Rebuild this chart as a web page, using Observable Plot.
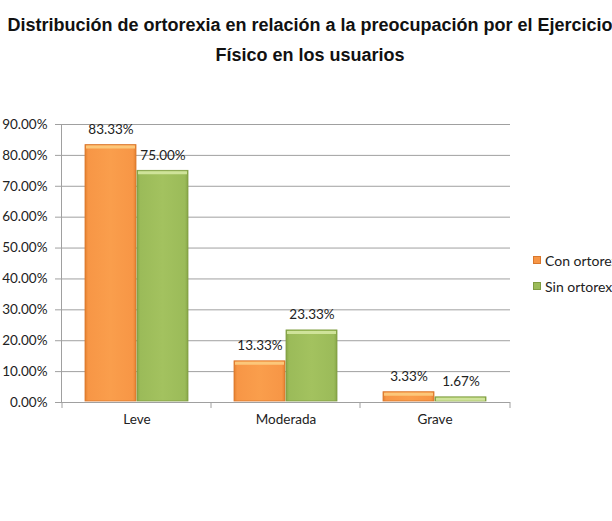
<!DOCTYPE html>
<html>
<head>
<meta charset="utf-8">
<script src="https://cdn.jsdelivr.net/npm/d3@7"></script>
<script src="https://cdn.jsdelivr.net/npm/@observablehq/plot@0.6"></script>
<style>
  html, body { margin: 0; padding: 0; background: #fff; }
  #wrap { position: relative; width: 612px; height: 521px; overflow: hidden; }
  .title { position: absolute; left: -90px; width: 800px; text-align: center; white-space: nowrap; font: bold 18px "Liberation Sans", Arial, sans-serif; color: #111; }
  #legend { position: absolute; left: 533px; top: 247px; white-space: nowrap; font: 14px Lato, sans-serif; color: #222; }
  #legend .row { display: flex; align-items: center; height: 26px; }
  #legend .sw { width: 8px; height: 8px; margin-right: 4px; box-sizing: border-box; }
</style>
</head>
<body>
<div id="wrap">
  <div class="title" id="t1" style="top:15px;"></div>
  <div class="title" id="t2" style="top:45px;"></div>
  <div id="chart"></div>
  <div id="legend"></div>
</div>
<script>
// Title lines
const titleLines = [
  "Distribución de ortorexia en relación a la preocupación por el Ejercicio",
  "Físico en los usuarios"
];

// Categories and series
const categories = ["Leve", "Moderada", "Grave"];
const seriesNames = ["Con ortorexia", "Sin ortorexia"];
const conOrtorexia = [83.33, 13.33, 3.33];
const sinOrtorexia = [75.00, 23.33, 1.67];
const yTicks = [0, 10, 20, 30, 40, 50, 60, 70, 80, 90];

const colors = {
  "Con ortorexia": {fill: "url(#gradCon)", top: "#fcc77a", edge: "#d9772c", swatch: "#f79646"},
  "Sin ortorexia": {fill: "url(#gradSin)", top: "#cfe39a", edge: "#7f9c41", swatch: "#9bbb59"}
};

document.getElementById("t1").textContent = titleLines[0];
document.getElementById("t2").textContent = titleLines[1];

const rows = [];
categories.forEach((c, i) => {
  rows.push({category: c, series: seriesNames[0], value: conOrtorexia[i]});
  rows.push({category: c, series: seriesNames[1], value: sinOrtorexia[i]});
});

const fmt = v => v.toFixed(2) + "%";

// Per-series placement within each category band
const seriesStyle = {
  "Con ortorexia": {insetLeft: 23, insetRight: 75, dx: -26},
  "Sin ortorexia": {insetLeft: 75, insetRight: 23, dx: 26}
};

const marks = [
  Plot.gridY(yTicks, {stroke: "#a0a0a0", strokeOpacity: 1}),
  Plot.frame({anchor: "left", stroke: "#a0a0a0"}),
  Plot.axisY(yTicks, {
    tickSize: 6, tickPadding: 8, stroke: "#a0a0a0",
    tickFormat: fmt, fontSize: 13.5, fill: "#222", label: null
  }),
  Plot.axisX({tickSize: 0, tickPadding: 12, fontSize: 13.5, fill: "#222", label: null}),
  // Category boundary ticks below the baseline
  Plot.ruleX(categories, {x: d => d, dx: -75, insetTop: 278, insetBottom: -6, stroke: "#a0a0a0"}),
  Plot.ruleX(categories.slice(-1), {x: d => d, dx: 75, insetTop: 278, insetBottom: -6, stroke: "#a0a0a0"})
];

for (const s of seriesNames) {
  const data = rows.filter(r => r.series === s);
  const st = seriesStyle[s];
  marks.push(
    Plot.barY(data, {
      x: "category", y: "value",
      fill: colors[s].fill, stroke: colors[s].edge, strokeWidth: 0.8,
      insetLeft: st.insetLeft, insetRight: st.insetRight, insetBottom: 1
    }),
    Plot.tickY(data, {
      x: "category", y: "value", dy: 2,
      stroke: colors[s].top, strokeWidth: 3,
      insetLeft: st.insetLeft + 1, insetRight: st.insetRight + 1
    }),
    Plot.text(data, {
      x: "category", y: "value", text: d => fmt(d.value),
      dx: st.dx, dy: -15.5, fontSize: 13.5, fill: "#222", lineAnchor: "middle"
    })
  );
}

const chart = Plot.plot({
  width: 612,
  height: 521,
  marginTop: 124,
  marginBottom: 119,
  marginLeft: 61,
  marginRight: 102,
  style: {fontFamily: "Lato, sans-serif", background: "transparent", overflow: "visible"},
  x: {domain: categories, padding: 0, axis: null},
  y: {domain: [0, 90], axis: null},
  marks
});

// Gradients giving the bars their shaded, bevelled look
const defs = d3.select(chart).insert("defs", ":first-child");
function grad(id, edge, main, light) {
  const g = defs.append("linearGradient").attr("id", id).attr("x1", 0).attr("x2", 1).attr("y1", 0).attr("y2", 0);
  [[0, edge], [0.06, main], [0.5, light], [0.94, main], [1, edge]].forEach(([o, c]) =>
    g.append("stop").attr("offset", o).attr("stop-color", c));
}
grad("gradCon", "#e3802f", "#f79646", "#fa9e4c");
grad("gradSin", "#86a647", "#9bbb59", "#a3c25f");

chart.style.position = "absolute";
chart.style.left = "0px";
chart.style.top = "0px";
document.getElementById("chart").appendChild(chart);

// Legend
const legend = document.getElementById("legend");
for (const s of seriesNames) {
  const row = document.createElement("div");
  row.className = "row";
  const sw = document.createElement("div");
  sw.className = "sw";
  sw.style.background = colors[s].swatch;
  sw.style.border = "1px solid " + colors[s].edge;
  const label = document.createElement("span");
  label.textContent = s;
  row.appendChild(sw);
  row.appendChild(label);
  legend.appendChild(row);
}
</script>
</body>
</html>
